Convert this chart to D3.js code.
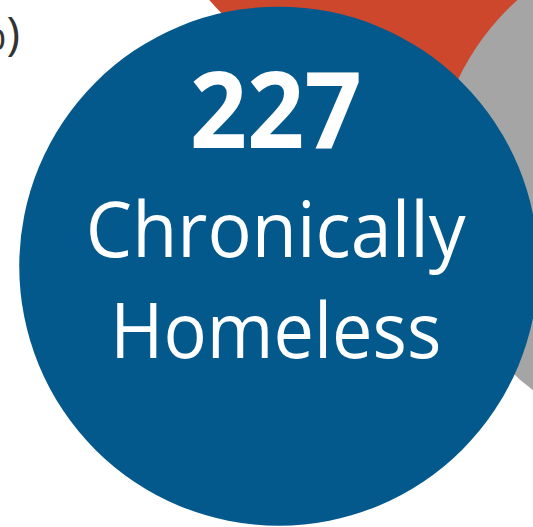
<!DOCTYPE html>
<html>
<head>
<meta charset="utf-8">
<script src="https://cdn.jsdelivr.net/npm/d3@7"></script>
<style>
  html, body { margin: 0; padding: 0; background: #fff; overflow: hidden; }
</style>
</head>
<body>
<div id="chart"></div>
<script>
// bubble values (only the blue one is labelled in view)
var categories = ["Other (red)", "Other (gray)", "Chronically Homeless"];
var values = [211, 217, 227];
var bigNumber = "227";
var labelLines = ["Chronically", "Homeless"];
var sideLabel = "%)";

function init(){
    var w = 533;
    var h = 527;

    // layout, kept apart from the data
    var colors = ["#cd472d", "#a5a5a5", "#03588c"];
    var centers = [[0.749, -0.309], [1.289, 0.358], [0.523, 0.505]]; // in units of the window

    var svg = d3.select("#chart")
        .append("svg")
        .attr("width", w)
        .attr("height", h);

    var xScale = d3.scaleLinear().domain([0, 1]).range([0, w]);
    var yScale = d3.scaleLinear().domain([0, 1]).range([0, h]);
    var rScale = d3.scaleSqrt().domain([0, d3.max(values)]).range([0, 259.5]);

    var data = categories.map(function(c, i) {
        return { name: c, value: values[i], color: colors[i], pos: centers[i] };
    });

    // circles, drawn back to front
    svg.selectAll("circle")
        .data(data)
        .enter()
        .append("circle")
        .attr("cx", d => xScale(d.pos[0]))
        .attr("cy", d => yScale(d.pos[1]))
        .attr("r", d => rScale(d.value))
        .attr("fill", d => d.color);

    var main = data[2];
    var cx = xScale(main.pos[0]) - 3;

    // big number
    svg.append("text")
        .attr("x", cx)
        .attr("y", 148)
        .attr("text-anchor", "middle")
        .attr("textLength", 172)
        .attr("lengthAdjust", "spacingAndGlyphs")
        .style("font-family", "'Open Sans', sans-serif")
        .style("font-weight", "700")
        .style("font-size", "105px")
        .style("fill", "#fff")
        .text(bigNumber);

    // label lines
    var lineY = [257, 358];
    var lineLen = [380, 331];
    labelLines.forEach(function(t, i) {
        svg.append("text")
            .attr("x", cx)
            .attr("y", lineY[i])
            .attr("text-anchor", "middle")
            .attr("textLength", lineLen[i])
            .attr("lengthAdjust", "spacingAndGlyphs")
            .style("font-family", "'Open Sans', sans-serif")
            .style("font-size", "77px")
            .style("fill", "#fff")
            .text(t);
    });

    // cut off label at top left
    svg.append("text")
        .attr("x", 20)
        .attr("y", 50)
        .attr("text-anchor", "end")
        .style("font-family", "'Open Sans', sans-serif")
        .style("font-size", "46px")
        .style("fill", "#333")
        .text(sideLabel);
}

window.onload = init;
</script>
</body>
</html>
